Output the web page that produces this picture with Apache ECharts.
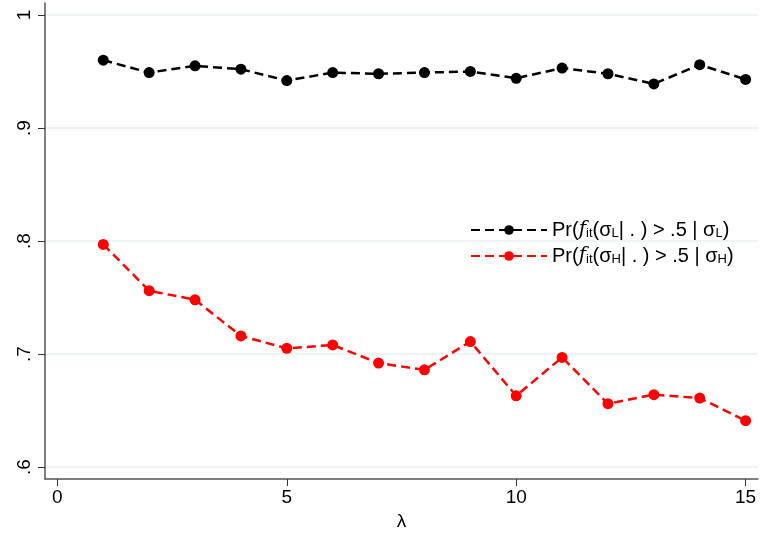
<!DOCTYPE html>
<html>
<head>
<meta charset="utf-8">
<style>
  html, body { margin: 0; padding: 0; background: #ffffff; }
  #chart { width: 760px; height: 536px; }
</style>
<script src="https://cdn.jsdelivr.net/npm/echarts@6/dist/echarts.min.js"></script>
</head>
<body>
<div id="chart"></div>
<script>
// lambda values on the horizontal axis
const lambdaValues = [1, 2, 3, 4, 5, 6, 7, 8, 9, 10, 11, 12, 13, 14, 15];
// Pr(f_it(sigma_L | .) > .5 | sigma_L)
const probLow = [0.960, 0.949, 0.955, 0.952, 0.942, 0.949, 0.948, 0.949, 0.950, 0.944, 0.953, 0.948, 0.939, 0.956, 0.943];
// Pr(f_it(sigma_H | .) > .5 | sigma_H)
const probHigh = [0.797, 0.756, 0.748, 0.716, 0.705, 0.708, 0.692, 0.686, 0.711, 0.663, 0.697, 0.656, 0.664, 0.661, 0.641];
// axis tick positions
const xTicks = [0, 5, 10, 15];
const yTicks = [0.6, 0.7, 0.8, 0.9, 1];

const FONT = '"Liberation Sans", Arial, sans-serif';

function legendRich(sub) {
  return 'Pr({f|f}{s|it}(σ{s|' + sub + '}| . ) > .5 | σ{s|' + sub + '})';
}

const chart = echarts.init(document.getElementById('chart'), null, { renderer: 'canvas' });

chart.setOption({
  animation: false,
  backgroundColor: '#ffffff',
  grid: { left: 45, right: 2, top: 3, bottom: 57 },
  xAxis: {
    type: 'value',
    min: -0.27,
    max: 15.27,
    name: 'λ',
    nameLocation: 'middle',
    nameGap: 31,
    nameTextStyle: { fontFamily: FONT, fontSize: 19, color: '#000' },
    axisLine: { show: true, onZero: false, lineStyle: { color: '#555555', width: 1.5 } },
    axisTick: { show: true, length: 7, customValues: xTicks, lineStyle: { color: '#333', width: 1 } },
    axisLabel: {
      customValues: xTicks,
      margin: 9,
      fontFamily: FONT, fontSize: 19, color: '#000'
    },
    splitLine: { show: false }
  },
  yAxis: {
    type: 'value',
    min: 0.5894,
    max: 1.0106,
    axisLine: { show: true, onZero: false, lineStyle: { color: '#555555', width: 1.5 } },
    axisTick: { show: true, length: 7, customValues: yTicks, lineStyle: { color: '#333', width: 1 } },
    axisLabel: {
      customValues: yTicks,
      rotate: 90,
      margin: 11,
      fontFamily: FONT, fontSize: 19, color: '#000',
      formatter: function (v) { return v === 1 ? '1' : String(Math.round(v * 10) / 10).replace(/^0/, ''); }
    },
    splitLine: { show: false }
  },
  legend: {
    left: 465,
    top: 215,
    orient: 'vertical',
    itemWidth: 76,
    itemHeight: 12,
    itemGap: 6,
    textStyle: {
      fontFamily: FONT, fontSize: 20, color: '#000',
      rich: {
        f: { fontFamily: '"DejaVu Serif", "Liberation Serif", serif', fontStyle: 'italic', fontSize: 20, color: '#000' },
        s: { fontFamily: FONT, fontSize: 13, color: '#000', verticalAlign: 'bottom', padding: [7, 0, 0, 0] }
      }
    },
    formatter: function (name) { return name === 'low' ? legendRich('L') : legendRich('H'); },
    data: ['low', 'high']
  },
  series: [
    {
      // horizontal reference lines at each y tick
      type: 'line',
      data: [],
      silent: true,
      z: 0,
      markLine: {
        silent: true,
        symbol: 'none',
        z: 0,
        label: { show: false },
        lineStyle: { color: '#e8f0f2', type: 'solid', width: 1.5 },
        data: yTicks.map(v => ({ yAxis: v }))
      }
    },
    {
      name: 'low',
      type: 'line',
      z: 3,
      data: lambdaValues.map((x, i) => [x, probLow[i]]),
      symbol: 'circle',
      symbolSize: 11,
      color: '#000000',
      itemStyle: { color: '#000000' },
      lineStyle: { color: '#000000', width: 2.5, type: [9, 5] }
    },
    {
      name: 'high',
      type: 'line',
      z: 3,
      data: lambdaValues.map((x, i) => [x, probHigh[i]]),
      symbol: 'circle',
      symbolSize: 11,
      color: '#ff0000',
      itemStyle: { color: '#ff0000' },
      lineStyle: { color: '#ff0000', width: 2.5, type: [9, 5] }
    }
  ]
});
</script>
</body>
</html>
